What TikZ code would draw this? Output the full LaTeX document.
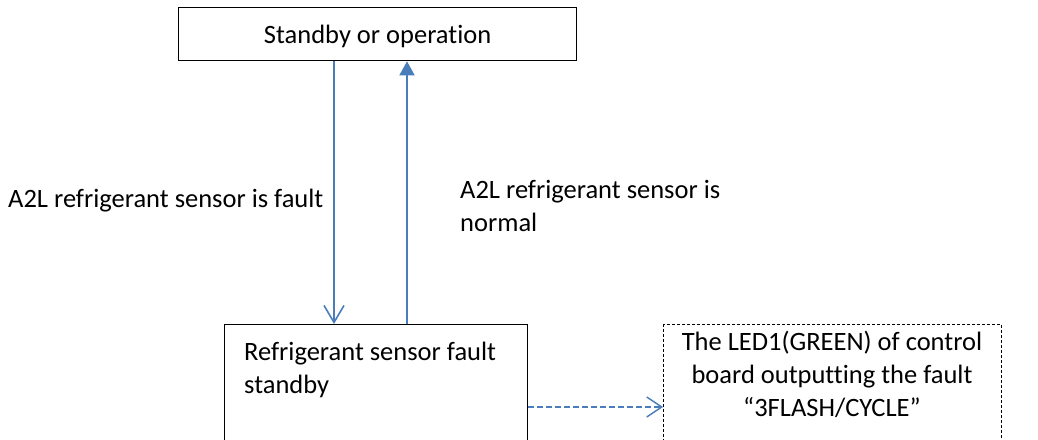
\documentclass[tikz,border=0pt]{standalone}
\usepackage{fontspec}
\setmainfont{Carlito}[Ligatures={NoCommon}]
\usetikzlibrary{arrows.meta}
\definecolor{arrowblue}{HTML}{4A7EBB}
\tikzset{
  box/.style={draw=black, line width=1.3pt, inner sep=0pt},
  dashbox/.style={draw=black, line width=1.1pt, dash pattern=on 3pt off 2pt, inner sep=0pt},
  lbl/.style={inner sep=0pt, align=left, font=\fontsize{26.5}{33}\selectfont},
  conn/.style={draw=arrowblue, line width=1.6pt},
}
\begin{document}
\begin{tikzpicture}[x=1pt,y=-1pt]
\clip (0,0) rectangle (1038,439);
\fill[white] (0,0) rectangle (1038,439);
% boxes
\node[box, minimum width=398pt, minimum height=53pt, anchor=north west,
      text height=19pt, text depth=0pt,
      font=\fontsize{26.5}{33}\selectfont] (top) at (178,7) {Standby or operation};
\node[box, minimum width=303pt, minimum height=150pt, anchor=north west] (fault) at (224,324) {};
% base anchor of a multi-line node = baseline of its last line
\node[lbl, anchor=base west] (faulttxt) at (244,393) {Refrigerant sensor fault\\standby};
\node[dashbox, minimum width=338pt, minimum height=150pt, anchor=north west] (led) at (663,324) {};
\node[lbl, align=center, anchor=base] (ledtxt) at (832,416) {The LED1(GREEN) of control\\board outputting the fault\\“3FLASH/CYCLE”};
% labels
\node[lbl, anchor=base west] (lfault) at (8,207) {A2L refrigerant sensor is fault};
\node[lbl, anchor=base west] (lnormal) at (460,231) {A2L refrigerant sensor is\\normal};
% connectors
\coordinate (dx) at (334,0);
\coordinate (ux) at (407,0);
\coordinate (ry) at (0,407);
\draw[conn, -{Straight Barb[length=17pt,width=20pt,line width=1.6pt]}] (top.south -| dx) -- (fault.north -| dx);
\draw[conn, -{Triangle[length=14pt,width=15pt]}, fill=arrowblue] (fault.north -| ux) -- (top.south -| ux);
\draw[conn, line width=1.4pt, dash pattern=on 6pt off 3pt, -{Straight Barb[length=15pt,width=20pt,line width=1.4pt]}] (fault.east |- ry) -- (led.west |- ry);
\end{tikzpicture}
\end{document}
